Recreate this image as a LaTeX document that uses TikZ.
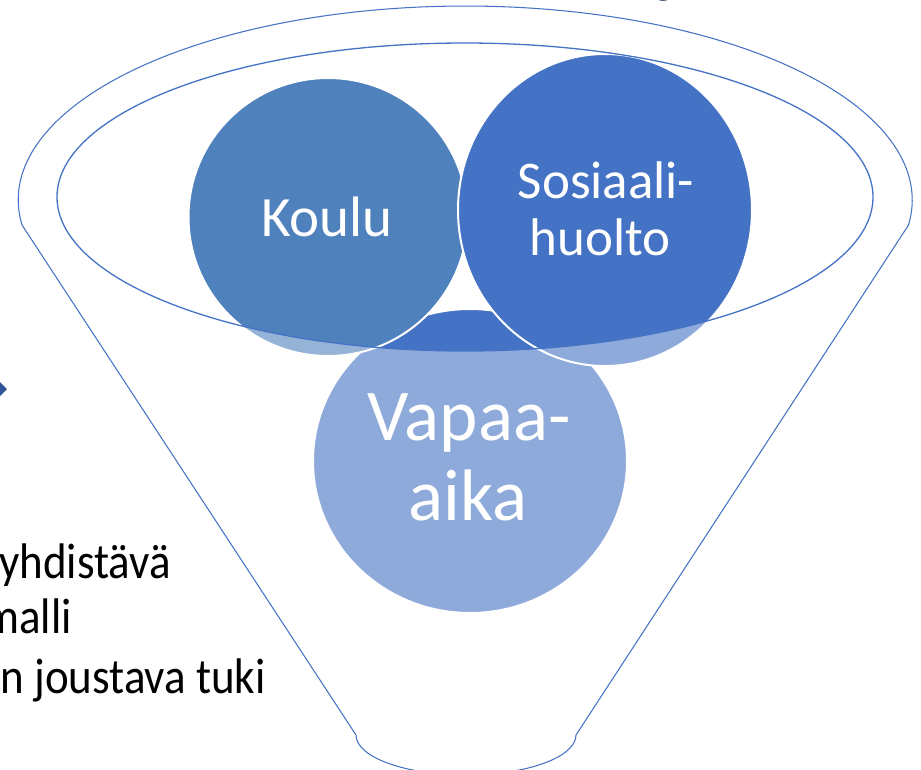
\documentclass[tikz,border=0pt]{standalone}
\usepackage{fontspec}
\setmainfont{Carlito}
\newfontfamily\sidefont[FakeStretch=0.9]{Carlito}
\usetikzlibrary{shapes.geometric}
\definecolor{rim}{HTML}{4472C4}
\definecolor{koulu}{HTML}{4F81BD}
\definecolor{sos}{HTML}{4472C4}
\definecolor{vapaa}{HTML}{4472C4}
\definecolor{navy}{HTML}{1F3864}
\definecolor{chev}{HTML}{2F5597}
\tikzset{
  bubble/.style={ellipse, inner sep=0pt, draw=white, line width=2pt},
  inlabel/.style={text=white, inner sep=0pt, anchor=base},
  sidetext/.style={text=black, inner sep=0pt, anchor=base east, font=\sidefont\fontsize{50}{57}\selectfont},
  rimline/.style={draw=rim, line width=1.3pt},
}
\begin{document}
\begin{tikzpicture}[x=1pt,y=-1pt]
\useasboundingbox (0,0) rectangle (921,769);
% circles
\node[bubble, fill=vapaa, minimum width=314pt, minimum height=304pt] (vapaa) at (470,461) {};
\node[bubble, fill=koulu, minimum width=279pt, minimum height=278pt] (koulu) at (328,217) {};
\node[bubble, fill=sos, minimum width=294pt, minimum height=312pt] (sos) at (605,210) {};
% fade outside inner rim
\fill[white, fill opacity=0.4, even odd rule] (-10,-10) rectangle (931,779) (465,197) ellipse [x radius=408, y radius=154];
% inner rim
\draw[rimline] (465,197) ellipse [x radius=408, y radius=154];
% funnel outline
\coordinate (tl) at (22,225);
\coordinate (tr) at (907,225);
\coordinate (br) at (576,735);
\draw[rim, line width=1.05pt] (tl) arc[start angle=172.6, end angle=367.4, x radius=447, y radius=194] -- (br) arc[start angle=0, end angle=180, x radius=110, y radius=40] -- cycle;
% labels
\node[inlabel, font=\fontsize{57}{66}\selectfont] (tk) at (327,236) {Koulu};
\node[inlabel, font=\fontsize{53}{60}\selectfont] (ts1) at (606,198) {Sosiaali-};
\node[inlabel, font=\fontsize{53}{60}\selectfont] (ts2) at (600,255) {huolto};
\node[inlabel, font=\fontsize{73}{80}\selectfont] (tv1) at (469,440) {Vapaa-};
\node[inlabel, font=\fontsize{73}{80}\selectfont] (tv2) at (468,520) {aika};
% side text (cut at left edge)
\node[sidetext] (s1) at (171,578) {yhdistävä};
\node[sidetext] (s2) at (72,633) {malli};
\node[sidetext] (s3) at (266,693) {n joustava tuki};
% chevron tip
\fill[chev] (-2,380) -- (7,389) -- (-2,398) -- cycle;
% cut-off text at top
\node[inlabel, anchor=base west, text=navy, font=\fontsize{40}{48}\selectfont\bfseries] (tg) at (654,-6) {g};
\end{tikzpicture}
\end{document}
